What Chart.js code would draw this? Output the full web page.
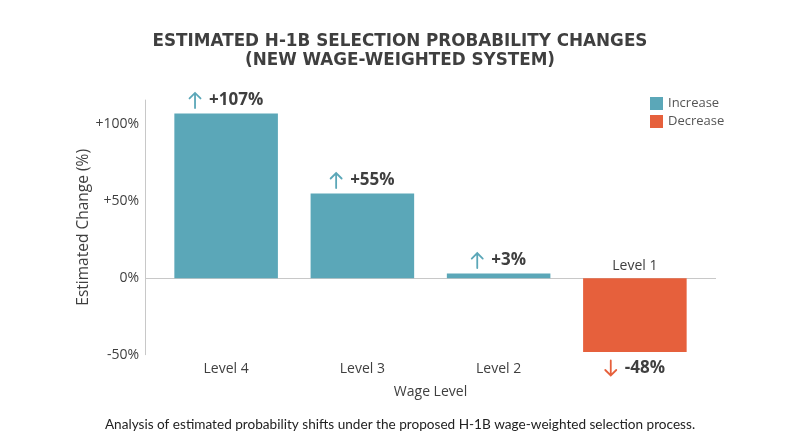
<!DOCTYPE html>
<html>
<head>
<meta charset="utf-8">
<script src="https://cdn.jsdelivr.net/npm/chart.js@4.4.0/dist/chart.umd.min.js"></script>
<style>
  html, body { margin: 0; padding: 0; background: #fff; }
  #wrap { width: 800px; height: 447px; position: relative; }
</style>
</head>
<body>
<div id="wrap"><canvas id="myChart"></canvas></div>
<script>
// estimated H-1B selection probability changes by wage level
const levels = ['Level 4', 'Level 3', 'Level 2', 'Level 1'];
const changes = [107, 55, 3, -48];
const yTicks = [-50, 0, 50, 100];
const legendItems = ['Increase', 'Decrease'];

const teal = '#5ba7b8';
const orange = '#e6603c';
const textDark = '#3f3f3f';
const fontMain = "'Open Sans', 'Noto Sans', sans-serif";

const barColors = changes.map(v => v >= 0 ? teal : orange);

// arrow drawn as lines, pointing up or down
const drawArrow = (ctx, x, yMid, up, color) => {
    const h = 15, w = 11;
    const top = yMid - h / 2, bottom = yMid + h / 2;
    ctx.save();
    ctx.strokeStyle = color;
    ctx.lineWidth = 1.8;
    ctx.lineCap = 'round';
    ctx.beginPath();
    ctx.moveTo(x, top);
    ctx.lineTo(x, bottom);
    if (up) {
        ctx.moveTo(x - w / 2, top + w / 2);
        ctx.lineTo(x, top);
        ctx.lineTo(x + w / 2, top + w / 2);
    } else {
        ctx.moveTo(x - w / 2, bottom - w / 2);
        ctx.lineTo(x, bottom);
        ctx.lineTo(x + w / 2, bottom - w / 2);
    }
    ctx.stroke();
    ctx.restore();
};

const extras = {
    id: 'extras',
    beforeDatasetsDraw(chart) {
        const { ctx, chartArea, scales } = chart;
        const y0 = scales.y.getPixelForValue(0);
        ctx.save();
        ctx.strokeStyle = '#c8c8c8';
        ctx.lineWidth = 1;
        // y axis line, a bit left of the plot
        ctx.beginPath();
        ctx.moveTo(chartArea.left - 12.5, chartArea.top);
        ctx.lineTo(chartArea.left - 12.5, chartArea.bottom);
        ctx.stroke();
        // zero line
        ctx.beginPath();
        ctx.moveTo(chartArea.left - 12, Math.round(y0) + 0.5);
        ctx.lineTo(chartArea.right + 13, Math.round(y0) + 0.5);
        ctx.stroke();
        ctx.restore();
    },
    afterDatasetsDraw(chart) {
        const { ctx, scales } = chart;
        const y0 = scales.y.getPixelForValue(0);
        const meta = chart.getDatasetMeta(0);
        meta.data.forEach((bar, i) => {
            const v = changes[i];
            const up = v >= 0;
            const txt = (up ? '+' : '') + v + '%';
            ctx.save();
            ctx.font = 'bold 17px ' + fontMain;
            const tw = ctx.measureText(txt).width;
            const total = 12 + 8 + tw;
            const left = bar.x - total / 2;
            const yMid = up ? bar.y - 13 : bar.y + 16;
            drawArrow(ctx, left + 6, yMid, up, barColors[i]);
            ctx.fillStyle = textDark;
            ctx.textBaseline = 'middle';
            ctx.textAlign = 'left';
            ctx.fillText(txt, left + 20, yMid);
            // category label above the zero line for negative bars
            if (!up) {
                ctx.font = '14px ' + fontMain;
                ctx.fillStyle = textDark;
                ctx.textAlign = 'center';
                ctx.fillText(levels[i], bar.x, y0 - 12);
            }
            ctx.restore();
        });
        // legend, top right
        ctx.save();
        ctx.font = '13px ' + fontMain;
        ctx.textBaseline = 'middle';
        ctx.textAlign = 'left';
        legendItems.forEach((name, i) => {
            const y = 103.5 + i * 18;
            ctx.fillStyle = i === 0 ? teal : orange;
            ctx.fillRect(650, y - 6.5, 13, 13);
            ctx.fillStyle = '#555';
            ctx.fillText(name, 668, y);
        });
        ctx.restore();
    }
};

const config = {
    type: 'bar',
    data: {
        labels: levels,
        datasets: [{
            label: 'Estimated change',
            data: changes,
            backgroundColor: barColors,
            borderWidth: 0,
            barPercentage: 0.76,
            categoryPercentage: 1
        }]
    },
    options: {
        responsive: true,
        maintainAspectRatio: false,
        animation: false,
        layout: { padding: { left: 74, right: 74, top: 0, bottom: 10 } },
        plugins: {
            legend: { display: false },
            tooltip: { enabled: false },
            title: {
                display: true,
                text: ['ESTIMATED H-1B SELECTION PROBABILITY CHANGES', '(NEW WAGE-WEIGHTED SYSTEM)'],
                color: textDark,
                font: { family: "'DejaVu Sans', sans-serif", size: 16.8, weight: 'bold', lineHeight: 1.12 },
                padding: { top: 32, bottom: 30 }
            },
            subtitle: {
                display: true,
                position: 'bottom',
                text: 'Analysis of estimated probability shifts under the proposed H-1B wage-weighted selection process.',
                color: '#222',
                font: { family: "Lato, sans-serif", size: 13.6 },
                padding: { top: 16, bottom: 4 }
            }
        },
        scales: {
            x: {
                grid: { display: false, drawTicks: false },
                border: { display: false },
                ticks: {
                    color: textDark,
                    font: { family: fontMain, size: 14 },
                    padding: 6,
                    callback: (val, i) => changes[i] >= 0 ? levels[i] : ''
                },
                title: {
                    display: true,
                    text: 'Wage Level',
                    color: textDark,
                    font: { family: fontMain, size: 14 },
                    padding: { top: 0, bottom: 0 }
                }
            },
            y: {
                min: -50,
                max: 116,
                afterBuildTicks: axis => {
                    axis.ticks = yTicks.map(v => ({ value: v }));
                },
                afterFit: axis => { axis.width = 84; },
                grid: { display: false, drawTicks: false },
                border: { display: false },
                ticks: {
                    color: textDark,
                    font: { family: fontMain, size: 14 },
                    padding: 19,
                    callback: v => (v > 0 ? '+' : '') + v + '%'
                },
                title: {
                    display: true,
                    text: 'Estimated Change (%)',
                    color: textDark,
                    font: { family: fontMain, size: 15.5 },
                    padding: { top: 0, bottom: 4 }
                }
            },
            // empty right-hand axis that keeps space for the legend
            yRight: {
                position: 'right',
                grid: { display: false, drawTicks: false },
                border: { display: false },
                ticks: { display: false },
                afterFit: axis => { axis.width = 23; }
            }
        }
    },
    plugins: [extras]
};

new Chart(document.getElementById('myChart'), config);
</script>
</body>
</html>
